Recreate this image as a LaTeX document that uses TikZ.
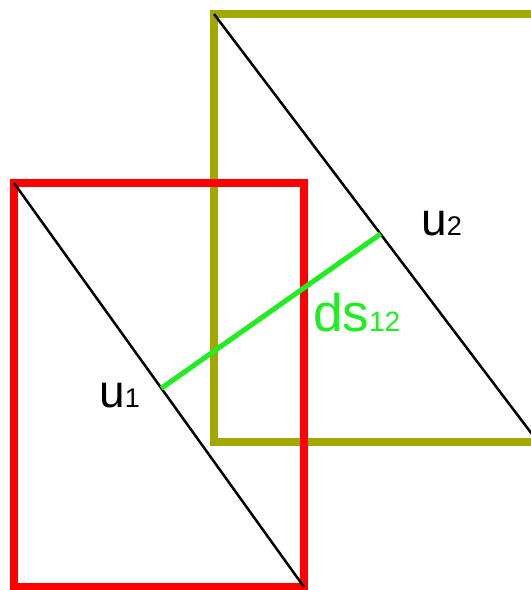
\documentclass[tikz,border=0pt]{standalone}
\usepackage{fontspec}
\setmainfont{Liberation Sans}
\usepackage{xcolor}
\usepackage{tikz}
\usetikzlibrary{calc}
\definecolor{boxolive}{RGB}{162,168,0}
\definecolor{dsgreen}{RGB}{34,236,34}
\tikzset{
	boxline/.style={line width=7.5pt},
	diagline/.style={line width=2.5pt, black},
	lbl/.style={inner sep=0pt, anchor=base west}
}

\begin{document}
\begin{tikzpicture}[x=1pt, y=-1pt]
				\clip (0,0) rectangle (531,590);
				\coordinate (r1) at (14,183);
				\coordinate (r2) at (304,587);
				\coordinate (o1) at (214,14);
				\coordinate (o2) at (538,442);
				\draw[boxline, boxolive] (o1) rectangle (o2);
				\draw[boxline, red] (r1) rectangle (r2);
				\draw[diagline] (r1) -- (r2);
				\draw[diagline] (o1) -- (o2);
				\coordinate (p1) at ($(r1)!0.508!(r2)$);
				\coordinate (p2) at ($(o1)!0.514!(o2)$);
				\draw[line width=5pt, dsgreen] (p1) -- (p2);
				\node[lbl, font=\fontsize{46}{46}\selectfont] (u1) at (99,407) {u\fontsize{27}{27}\selectfont 1};
				\node[lbl, font=\fontsize{46}{46}\selectfont] (u2) at (421,235) {u\fontsize{27}{27}\selectfont 2};
				\node[lbl, dsgreen, font=\fontsize{53}{53}\selectfont] (ds) at (313,331) {ds\fontsize{28}{28}\selectfont 12};
			\end{tikzpicture}
\end{document}
